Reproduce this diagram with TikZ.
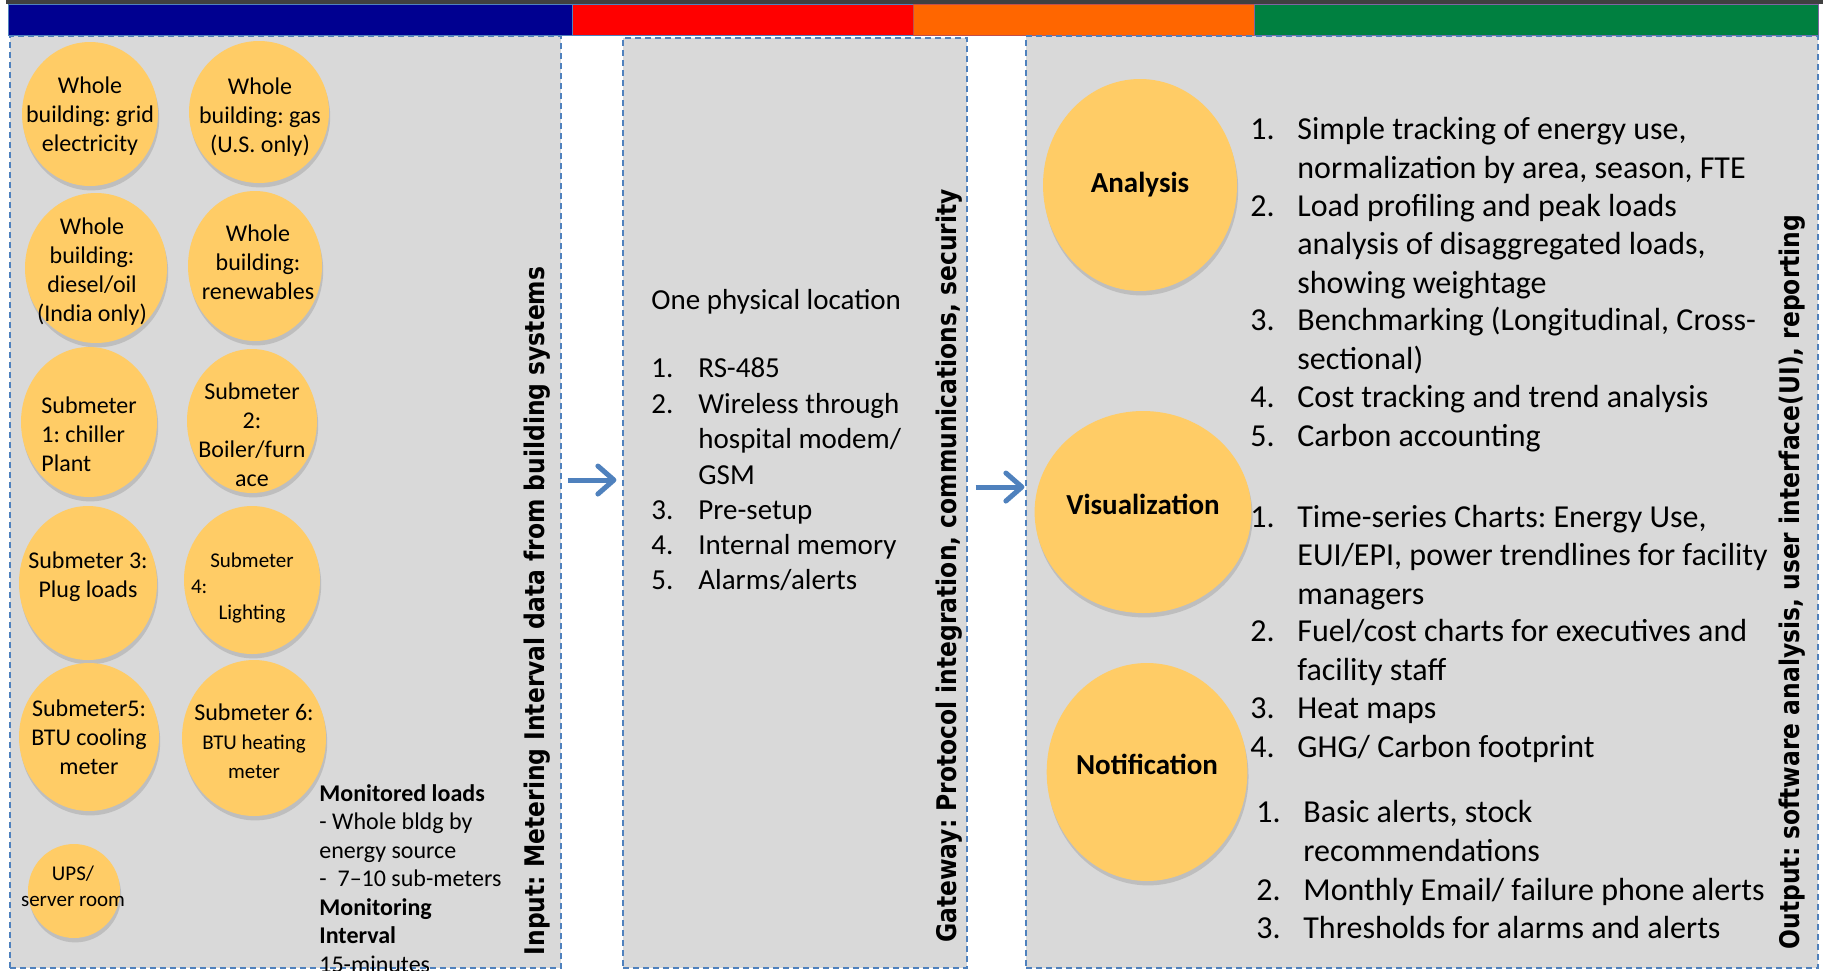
\documentclass[tikz,border=0pt]{standalone}
\usepackage{fontspec}
\usepackage{graphicx}
\setmainfont{Carlito}
\newfontfamily\titlefam{DejaVu Sans}
\usepackage{tikz}
\usetikzlibrary{shapes.geometric,shadows,arrows.meta,fit}

\definecolor{topline}{RGB}{64,64,64}
\definecolor{barnavy}{RGB}{0,0,144}
\definecolor{barred}{RGB}{255,0,0}
\definecolor{barorange}{RGB}{255,102,0}
\definecolor{bargreen}{RGB}{0,128,64}
\definecolor{orangeedge}{RGB}{192,80,77}
\definecolor{greenedge}{RGB}{128,100,162}
\definecolor{panelgray}{RGB}{217,217,217}
\definecolor{edgeblue}{RGB}{79,129,189}
\definecolor{bubblefill}{RGB}{255,204,102}

\newcommand{\fscirc}{\fontsize{12}{14.5}\selectfont}
\newcommand{\fssmall}{\fontsize{10.5}{13}\selectfont}
\newcommand{\fsnote}{\fontsize{12}{14.25}\selectfont}
\newcommand{\fsgate}{\fontsize{14.5}{17.75}\selectfont}
\newcommand{\fsout}{\fontsize{16}{19.1}\selectfont}
\newcommand{\fslabel}{\bfseries\fontsize{14.5}{17}\selectfont}
\newcommand{\itemno}[1]{\makebox[23.5pt][l]{#1}}
\newcommand{\itemgap}{\hspace*{23.5pt}}
\newcommand{\narrow}[1]{\scalebox{0.867}[1]{#1}}

% multi-line nodes: base = baseline of the last line
\tikzset{
  panel/.style={draw=edgeblue, fill=panelgray, line width=0.6pt, dash pattern=on 3pt off 2pt, inner sep=0pt},
  colbar/.style={draw=edgeblue, line width=0.5pt},
  bubble/.style={ellipse, fill=bubblefill, inner sep=0pt,
    drop shadow={shadow xshift=0.6pt, shadow yshift=-2.2pt, opacity=0.3}},
  btext/.style={align=center, inner sep=0pt, font=\fscirc},
  listtext/.style={anchor=base west, align=left, inner sep=0pt},
  vtitle/.style={rotate=90, inner sep=0pt, font=\titlefam\bfseries\fontsize{13.5}{15}\selectfont},
  flow/.style={draw=edgeblue, line width=2.5pt, -{Straight Barb[round,length=8pt,width=14pt]}}
}

\begin{document}
\frenchspacing
\begin{tikzpicture}[x=0.5pt, y=-0.5pt]
    \useasboundingbox (0,0) rectangle (1823,970);
    \clip (0,0) rectangle (1823,970);

    % colour strip
    \fill[topline] (6,0) rectangle (1823,4);
    \draw[colbar, fill=barnavy] (8,4) rectangle (572,35);
    \draw[colbar, fill=barred] (572,4) rectangle (913,35);
    \draw[colbar, fill=barorange, draw=orangeedge] (913,4) rectangle (1254,35);
    \draw[colbar, fill=bargreen, draw=greenedge] (1254,4) rectangle (1818,35);

    % panels
    \node[panel, fit={(10,36) (561,968)}] (inp) {};
    \node[panel, fit={(623,38) (967,968)}] (gw) {};
    \node[panel, fit={(1026,36) (1818,968)}] (out) {};

    % Input
    \node[bubble, minimum width=68pt, minimum height=72pt] (grid) at (90,114) {};
    \node[bubble, minimum width=70pt, minimum height=71pt] (gas) at (259,112) {};
    \node[bubble, minimum width=71pt, minimum height=75pt] (diesel) at (96,268) {};
    \node[bubble, minimum width=67pt, minimum height=75pt] (renew) at (255,266) {};
    \node[bubble, minimum width=68pt, minimum height=75pt] (chiller) at (89,422) {};
    \node[bubble, minimum width=65pt, minimum height=72pt] (boiler) at (252,421) {};
    \node[bubble, minimum width=69pt, minimum height=77pt] (plug) at (88,583) {};
    \node[bubble, minimum width=68pt, minimum height=74pt] (light) at (252,580) {};
    \node[bubble, minimum width=70pt, minimum height=74pt] (cool) at (89,737) {};
    \node[bubble, minimum width=72pt, minimum height=78pt] (heat) at (254,738) {};
    \node[bubble, minimum width=46pt, minimum height=47pt] (ups) at (74,891) {};

    \node[btext] (grid-t) at (90,116) {Whole\\building: grid\\electricity};
    \node[btext] (gas-t) at (260,117) {Whole\\building: gas\\(U.S. only)};
    \node[btext] (diesel-t) at (92,272) {Whole\\building:\\diesel/oil\\(India only)};
    \node[btext] (renew-t) at (258,262) {Whole\\building:\\renewables};
    \node[btext, align=left, anchor=west] (chiller-t) at (41,434) {Submeter\\1: chiller\\Plant};
    \node[btext] (boiler-t) at (252,435) {Submeter\\2:\\Boiler/furn\\ace};
    \node[btext] (plug-t) at (88,577) {Submeter 3:\\Plug loads};
    \node[btext, font=\fssmall] (light-t) at (252,588) {Submeter\\\makebox[61pt][l]{4:}\\Lighting};
    \node[btext] (cool-t) at (89,737) {Submeter5:\\BTU cooling\\meter};
    \node[btext] (heat-t) at (254,741) {Submeter 6:\\{\fssmall BTU heating}\\{\fssmall meter}};
    \node[btext, font=\fssmall] (ups-t) at (73,886) {UPS/\\server room};

    \node[listtext, font=\fsnote] (loads) at (319,972) {\textbf{Monitored loads}\\- Whole bldg by\\energy source\\-\ \ 7–10 sub-meters\\\textbf{Monitoring}\\\textbf{Interval}\\15-minutes};
    \node[vtitle] (inp-title) at (537,611) {\narrow{Input: Metering Interval data from building systems}};

    % Gateway
    \node[listtext, font=\fsgate] (loc) at (651,309) {One physical location};
    \node[listtext, font=\fsgate] (g1) at (651,377) {\itemno{1.}RS-485};
    \node[listtext, font=\fsgate] (g2) at (651,484) {\itemno{2.}Wireless through\\\itemgap hospital modem/\\\itemgap GSM};
    \node[listtext, font=\fsgate] (g3) at (651,519) {\itemno{3.}Pre-setup};
    \node[listtext, font=\fsgate] (g4) at (651,554) {\itemno{4.}Internal memory};
    \node[listtext, font=\fsgate] (g5) at (651,589) {\itemno{5.}Alarms/alerts};
    \node[vtitle] (gw-title) at (949,566) {\narrow{Gateway: Protocol integration, communications, security}};

    % Output
    \node[bubble, minimum width=97pt, minimum height=106pt, font=\fslabel] (analysis) at (1140,185) {Analysis};
    \node[bubble, minimum width=93pt, minimum height=101pt, font=\fslabel] (viz) at (1143,512) {\raisebox{8pt}{Visualization}};
    \node[bubble, minimum width=100pt, minimum height=109pt, font=\fslabel] (notif) at (1147,772) {\raisebox{8pt}{Notification}};

    \node[listtext, font=\fsout] (a1) at (1250,178) {\itemno{1.}Simple tracking of energy use,\\\itemgap normalization by area, season, FTE};
    \node[listtext, font=\fsout] (a2) at (1250,293) {\itemno{2.}Load profiling and peak loads\\\itemgap analysis of disaggregated loads,\\\itemgap showing weightage};
    \node[listtext, font=\fsout] (a3) at (1250,369) {\itemno{3.}Benchmarking (Longitudinal, Cross-\\\itemgap sectional)};
    \node[listtext, font=\fsout] (a4) at (1250,407) {\itemno{4.}Cost tracking and trend analysis};
    \node[listtext, font=\fsout] (a5) at (1250,446) {\itemno{5.}Carbon accounting};

    \node[listtext, font=\fsout] (v1) at (1250,604) {\itemno{1.}Time-series Charts: Energy Use,\\\itemgap EUI/EPI, power trendlines for facility\\\itemgap managers};
    \node[listtext, font=\fsout] (v2) at (1250,680) {\itemno{2.}Fuel/cost charts for executives and\\\itemgap facility staff};
    \node[listtext, font=\fsout] (v3) at (1250,718) {\itemno{3.}Heat maps};
    \node[listtext, font=\fsout] (v4) at (1250,757) {\itemno{4.}GHG/ Carbon footprint};

    \node[listtext, font=\fsout] (n1) at (1256,861) {\itemno{1.}Basic alerts, stock\\\itemgap recommendations};
    \node[listtext, font=\fsout] (n2) at (1256,900) {\itemno{2.}Monthly Email/ failure phone alerts};
    \node[listtext, font=\fsout] (n3) at (1256,938) {\itemno{3.}Thresholds for alarms and alerts};
    \node[vtitle] (out-title) at (1792,582) {\narrow{Output: software analysis, user interface(UI), reporting}};

    % flow between panels
    \draw[flow, shorten <=3pt, shorten >=3pt] ([yshift=11pt]inp.east) -- ([yshift=11pt]inp.east -| gw.west);
    \draw[flow, shorten <=4pt, shorten >=0.5pt] ([yshift=8pt]gw.east) -- ([yshift=8pt]gw.east -| out.west);
\end{tikzpicture}
\end{document}
